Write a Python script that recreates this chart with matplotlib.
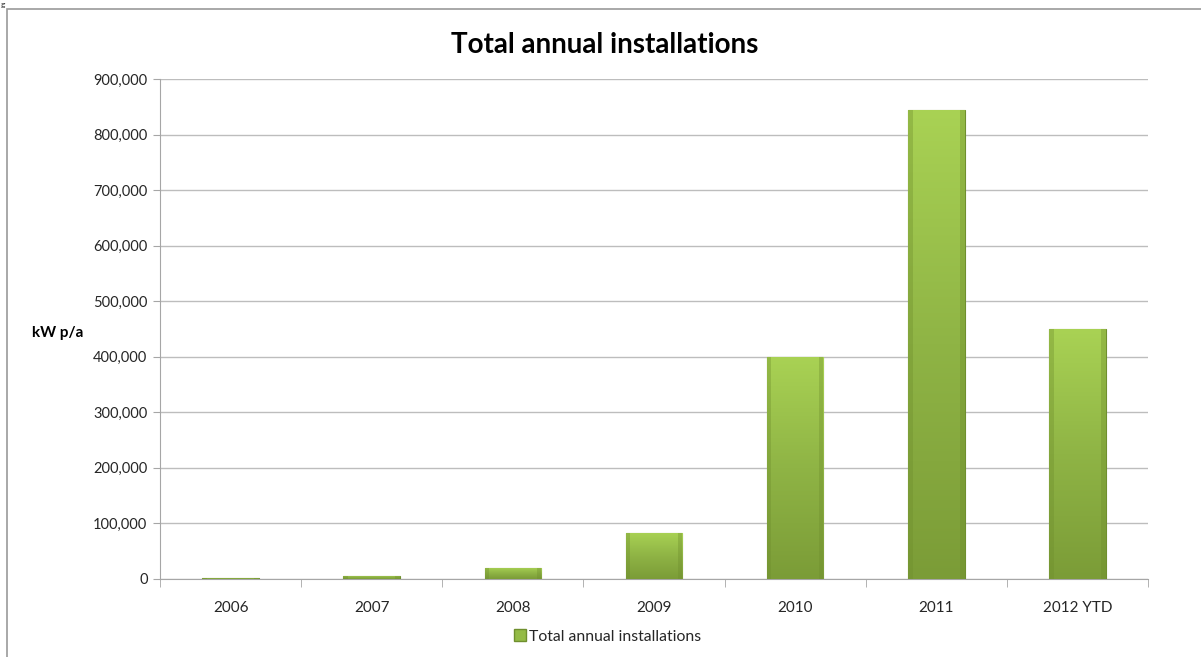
import numpy as np
import matplotlib.pyplot as plt
import matplotlib.ticker as ticker
from matplotlib.colors import LinearSegmentedColormap
from matplotlib.patches import Rectangle

years = ["2006", "2007", "2008", "2009", "2010", "2011", "2012 YTD"]
installs = [2000, 6000, 20000, 83000, 400000, 845000, 450000]

plt.rcParams['font.family'] = ['Lato', 'DejaVu Sans']
grey = '#a6a6a6'

fig = plt.figure(figsize=(12.01, 6.57), dpi=100)

# outer frame of the chart object (clipped at right/bottom)
fig.patches.append(Rectangle((7 / 1201, -0.1), 1.2, 1 - 9 / 657 + 0.1, transform=fig.transFigure,
                             fill=False, edgecolor='#9a9a9a', linewidth=1.2))
fig.text(1 / 1201, 1 - 1 / 657, "g", fontsize=6, va='top', ha='left', color='#222222')

ax = fig.add_axes([160 / 1201, 1 - 579 / 657, (1148 - 160) / 1201, (579 - 79) / 657])
x = np.arange(len(years))
bars = ax.bar(x, installs, width=0.4, color='#94bb46', edgecolor='#6f8f2e', linewidth=0.8, zorder=3)

# vertical gradient inside each bar (light top -> darker bottom)
cmap = LinearSegmentedColormap.from_list('grn', ['#7b9c37', '#8fb445', '#a9d254'])
grad = np.linspace(0, 1, 256).reshape(-1, 1)
for b in bars:
    x0, w, h = b.get_x(), b.get_width(), b.get_height()
    im = ax.imshow(grad, extent=[x0, x0 + w, 0, h], origin='lower', aspect='auto', cmap=cmap, zorder=3.5)
    im.set_clip_path(b)
    # shaded side edges
    ax.bar(x0 + w * 0.04, h, width=w * 0.08, color='#6d8c2c', alpha=0.35, zorder=3.6, linewidth=0)
    ax.bar(x0 + w * 0.96, h, width=w * 0.08, color='#6d8c2c', alpha=0.35, zorder=3.6, linewidth=0)

ax.set_xlim(-0.5, len(years) - 0.5)
ax.set_ylim(0, 900000)
ax.yaxis.set_major_locator(ticker.MultipleLocator(100000))
ax.get_yaxis().set_major_formatter(plt.FuncFormatter(lambda v, loc: "{:,}".format(int(v))))
ax.set_xticks(x)
ax.set_xticklabels(years)
ax.xaxis.set_minor_locator(ticker.FixedLocator(np.arange(-0.5, len(years), 1)))
ax.tick_params(axis='x', which='major', length=0, pad=16, labelsize=11, labelcolor='#262626')
ax.tick_params(axis='x', which='minor', length=6, color=grey, direction='out')
ax.tick_params(axis='y', length=5, color=grey, pad=4, labelsize=10.5, labelcolor='#262626')
ax.grid(axis='y', color='#bdbdbd', linewidth=1, zorder=0)
ax.set_axisbelow(True)
for s in ['top', 'right']:
    ax.spines[s].set_visible(False)
ax.spines['left'].set_color(grey)
ax.spines['bottom'].set_color(grey)

fig.text(605 / 1201, 1 - 45 / 657, "Total annual installations", fontsize=20, fontweight='bold',
         ha='center', va='center')
fig.text(32 / 1201, 1 - 333 / 657, "kW p/a", fontsize=11, fontweight='bold', ha='left', va='center')

leg = ax.legend([Rectangle((0, 0), 1, 1, facecolor='#94bb46', edgecolor='#6f8f2e')],
                ["Total annual installations"], loc='center', bbox_to_anchor=(0.453, -0.115),
                frameon=False, fontsize=11.3, handlelength=0.8, handleheight=0.8, handletextpad=0.2)
for t in leg.get_texts():
    t.set_color('#262626')

plt.savefig("out.png", dpi=100)
